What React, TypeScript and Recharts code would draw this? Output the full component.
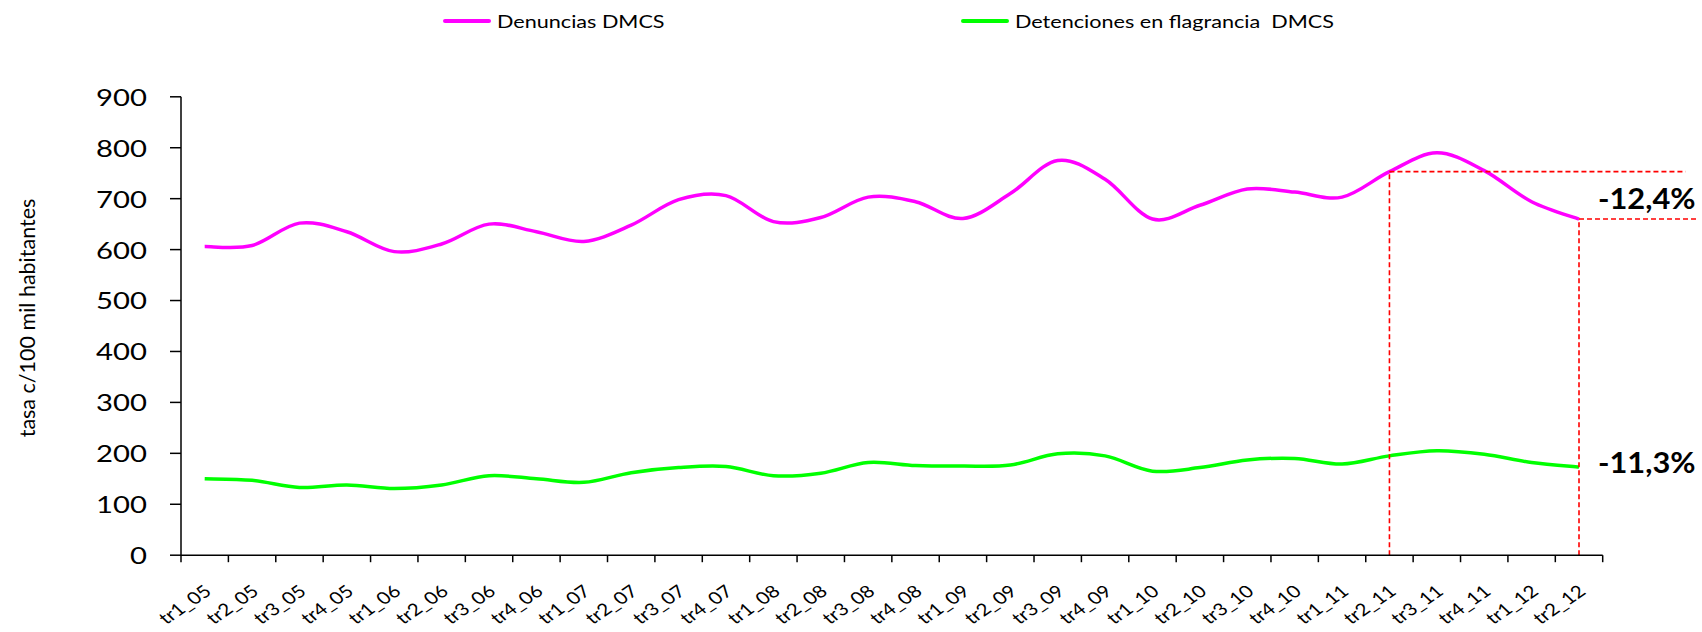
import React from 'react';
import { LineChart, Line, XAxis, YAxis, ReferenceLine, ReferenceDot } from 'recharts';

// ---------- data ----------
const categories = [
  'tr1_05', 'tr2_05', 'tr3_05', 'tr4_05',
  'tr1_06', 'tr2_06', 'tr3_06', 'tr4_06',
  'tr1_07', 'tr2_07', 'tr3_07', 'tr4_07',
  'tr1_08', 'tr2_08', 'tr3_08', 'tr4_08',
  'tr1_09', 'tr2_09', 'tr3_09', 'tr4_09',
  'tr1_10', 'tr2_10', 'tr3_10', 'tr4_10',
  'tr1_11', 'tr2_11', 'tr3_11', 'tr4_11',
  'tr1_12', 'tr2_12',
];
const denuncias = [
  606, 608, 652, 635,
  596, 611, 650, 635,
  616, 648, 698, 706,
  655, 663, 703, 694,
  661, 710, 775, 738,
  660, 687, 719, 713,
  703, 753, 790, 755,
  694, 660,
];
const detenciones = [
  150, 147, 133, 138,
  131, 138, 156, 150,
  143, 162, 172, 174,
  156, 161, 182, 176,
  175, 177, 199, 195,
  165, 172, 187, 190,
  179, 195, 205, 198,
  182, 173,
];
const yTicks = [0, 100, 200, 300, 400, 500, 600, 700, 800, 900];
const yAxisTitle = 'tasa c/100 mil habitantes';
const seriesNames = ['Denuncias DMCS', 'Detenciones en flagrancia  DMCS'];
const seriesColors = ['#FF00FF', '#00FF00'];
const compareFrom = 'tr2_11';
const compareTo = 'tr2_12';
// horizontal reach of the comparison guides (in category units)
const upperGuideEnd = 31.75;
const lowerGuideEnd = 32.0;

// ---------- derived ----------
const data = categories.map((c, i) => ({
  cat: c,
  pos: i + 0.5,
  denuncias: denuncias[i],
  detenciones: detenciones[i],
}));
const boundaryTicks = Array.from({ length: categories.length + 1 }, (_, i) => i);
const centerTicks = categories.map((_, i) => i + 0.5);
const iFrom = categories.indexOf(compareFrom);
const iTo = categories.indexOf(compareTo);
const pct = (arr: number[]) =>
  ((arr[iTo] / arr[iFrom] - 1) * 100).toFixed(1).replace('.', ',') + '%';

// ---------- styling ----------
const SX = 1.22;
const FONT = 'Lato, "Open Sans", sans-serif';

function excelSmooth(context: any) {
  let pts: number[][] = [];
  return {
    areaStart() {},
    areaEnd() {},
    lineStart() {
      pts = [];
    },
    point(x: number, y: number) {
      pts.push([+x, +y]);
    },
    lineEnd() {
      const n = pts.length;
      if (n === 0) return;
      context.moveTo(pts[0][0], pts[0][1]);
      for (let i = 0; i < n - 1; i++) {
        const p0 = pts[Math.max(i - 1, 0)];
        const p1 = pts[i];
        const p2 = pts[i + 1];
        const p3 = pts[Math.min(i + 2, n - 1)];
        context.bezierCurveTo(
          p1[0] + (p2[0] - p0[0]) / 6,
          p1[1] + (p2[1] - p0[1]) / 6,
          p2[0] - (p3[0] - p1[0]) / 6,
          p2[1] - (p3[1] - p1[1]) / 6,
          p2[0],
          p2[1]
        );
      }
    },
  };
}

const EmptyTick = () => null;

const YTick = (props: any) => {
  const { x, y, payload } = props;
  return (
    <text
      transform={`translate(${x},${y}) scale(${SX},1)`}
      textAnchor="end"
      dominantBaseline="central"
      fontSize={24}
      fontFamily={FONT}
      fill="#000"
    >
      {payload.value}
    </text>
  );
};

const XLabelTick = (props: any) => {
  const { x, y, payload } = props;
  const label = categories[Math.floor(payload.value)];
  return (
    <text
      transform={`translate(${x + 8},${y + 37}) scale(${SX},1) rotate(-40)`}
      textAnchor="end"
      fontSize={17}
      fontFamily={FONT}
      fill="#000"
    >
      {label}
    </text>
  );
};

const YTitle = (props: any) => {
  const vb = props.viewBox || { x: 0, y: 0, width: 0, height: 0 };
  const cx = vb.x + 27;
  const cy = vb.y + vb.height / 2 - 8;
  return (
    <text
      x={cx}
      y={cy}
      transform={`rotate(-90, ${cx}, ${cy})`}
      textAnchor="middle"
      dominantBaseline="central"
      fontSize={21.5}
      fontFamily={FONT}
      fill="#000"
    >
      {yAxisTitle}
    </text>
  );
};

const pctShape = (text: string, dy: number) => (props: any) => {
  const { cx, cy } = props;
  return (
    <text
      transform={`translate(${cx + 19},${cy + dy}) scale(1.1,1)`}
      textAnchor="start"
      dominantBaseline="central"
      fontSize={28}
      fontWeight={700}
      fontFamily={FONT}
      fill="#000"
    >
      {text}
    </text>
  );
};

const red = '#FF0000';
const dash = '5 3';
const X_MAIN = 'a';
const X_LABELS = 'b';

export default function App() {
  return (
    <div style={{ position: 'absolute', left: 0, top: 0, width: 1702, height: 632, background: '#fff' }}>
      {/* legend */}
      {seriesNames.map((name, i) => {
        const left = i === 0 ? 443 : 961;
        return (
          <div
            key={name}
            style={{ position: 'absolute', left, top: 8, height: 26, display: 'flex', alignItems: 'center' }}
          >
            <div style={{ width: 48, height: 4, background: seriesColors[i], borderRadius: 2 }} />
            <span
              style={{
                marginLeft: 6,
                fontFamily: FONT,
                fontSize: 18,
                whiteSpace: 'pre',
                display: 'inline-block',
                transform: `scaleX(1.2)`,
                transformOrigin: 'left center',
                color: '#000',
              }}
            >
              {name}
            </span>
          </div>
        );
      })}
      <LineChart
        width={1702}
        height={632}
        data={data}
        margin={{ top: 96.8, right: 99.3, bottom: 0, left: 0 }}
      >
        <XAxis
          xAxisId={X_LABELS}
          dataKey="pos"
          type="number"
          domain={[0, categories.length]}
          ticks={centerTicks}
          interval={0}
          tick={XLabelTick}
          tickSize={0}
          tickMargin={0}
          height={75.8}
          axisLine={false}
          tickLine={false}
        />
        <XAxis
          xAxisId={X_MAIN}
          dataKey="pos"
          type="number"
          domain={[0, categories.length]}
          ticks={boundaryTicks}
          interval={0}
          tick={EmptyTick}
          tickSize={7}
          height={1}
          axisLine={{ stroke: '#000', strokeWidth: 1.5 }}
          tickLine={{ stroke: '#000', strokeWidth: 1.5 }}
        />
        <YAxis
          domain={[0, 900]}
          ticks={yTicks}
          interval={0}
          width={181}
          tickSize={11}
          tickMargin={23}
          tick={YTick}
          axisLine={{ stroke: '#000', strokeWidth: 1.5 }}
          tickLine={{ stroke: '#000', strokeWidth: 1.5 }}
          label={YTitle}
        />
        <Line
          xAxisId={X_MAIN}
          dataKey="denuncias"
          name={seriesNames[0]}
          stroke={seriesColors[0]}
          strokeWidth={3.5}
          dot={false}
          type={excelSmooth as any}
          isAnimationActive={false}
        />
        <Line
          xAxisId={X_MAIN}
          dataKey="detenciones"
          name={seriesNames[1]}
          stroke={seriesColors[1]}
          strokeWidth={3.5}
          dot={false}
          type={excelSmooth as any}
          isAnimationActive={false}
        />
        <ReferenceLine
          xAxisId={X_MAIN}
          ifOverflow="visible"
          segment={[{ x: iFrom + 0.5, y: 0 }, { x: iFrom + 0.5, y: denuncias[iFrom] }]}
          stroke={red}
          strokeWidth={1.6}
          strokeDasharray={dash}
        />
        <ReferenceLine
          xAxisId={X_MAIN}
          ifOverflow="visible"
          segment={[{ x: iTo + 0.5, y: 0 }, { x: iTo + 0.5, y: denuncias[iTo] }]}
          stroke={red}
          strokeWidth={1.6}
          strokeDasharray={dash}
        />
        <ReferenceLine
          xAxisId={X_MAIN}
          ifOverflow="visible"
          segment={[{ x: iFrom + 0.5, y: denuncias[iFrom] }, { x: upperGuideEnd, y: denuncias[iFrom] }]}
          stroke={red}
          strokeWidth={1.6}
          strokeDasharray={dash}
        />
        <ReferenceLine
          xAxisId={X_MAIN}
          ifOverflow="visible"
          segment={[{ x: iTo + 0.5, y: denuncias[iTo] }, { x: lowerGuideEnd, y: denuncias[iTo] }]}
          stroke={red}
          strokeWidth={1.6}
          strokeDasharray={dash}
        />
        <ReferenceDot
          xAxisId={X_MAIN}
          ifOverflow="visible"
          x={iTo + 0.5}
          y={denuncias[iTo]}
          r={0}
          shape={pctShape(pct(denuncias), -21)}
        />
        <ReferenceDot
          xAxisId={X_MAIN}
          ifOverflow="visible"
          x={iTo + 0.5}
          y={detenciones[iTo]}
          r={0}
          shape={pctShape(pct(detenciones), -5)}
        />
      </LineChart>
    </div>
  );
}
